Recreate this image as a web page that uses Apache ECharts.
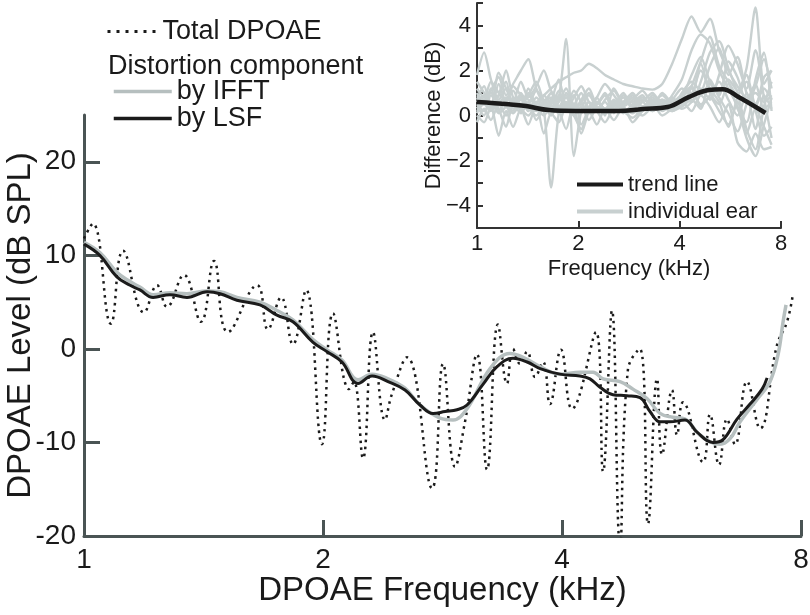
<!DOCTYPE html>
<html>
<head>
<meta charset="utf-8">
<script src="https://cdn.jsdelivr.net/npm/echarts@6/dist/echarts.min.js"></script>
<style>html,body{margin:0;padding:0;background:#fff}#c{width:810px;height:615px}</style>
</head>
<body>
<div id="c"></div>
<script>
// ---------- Main chart data (frequency kHz, level dB SPL) ----------
const totalFreq = [1.000,1.026,1.081,1.120,1.190,1.236,1.272,1.336,1.404,1.458,1.518,1.652,1.705,1.771,1.833,1.904,1.994,2.059,2.157,2.188,2.246,2.312,2.394,2.443,2.552,2.744,2.833,2.933,3.019,3.126,3.218,3.322,3.410,3.470,3.541,3.615,3.699,3.786,3.863,3.988,4.118,4.414,4.506,4.624,4.733,4.843,5.013,5.133,5.269,5.346,5.503,5.584,5.682,6.021,6.144,6.307,6.455,6.606,6.840,7.104,7.462,7.682,7.816];
const totalLevel = [11.8,13.4,2.7,10.5,3.9,6.8,4.5,7.9,2.9,9.4,1.8,6.8,2.1,5.5,0.5,6.3,-10.2,3.8,-4.3,-3.5,-11.7,1.8,-7.6,-4.8,-0.9,-14.9,-1.6,-12.6,-7.8,-0.6,-12.9,2.6,-3.7,0.0,-1.6,-0.3,-3.0,-1.4,-5.9,-0.1,-6.4,1.8,-13.1,4.1,-21.0,-2.2,0.0,-18.7,-3.2,-11.3,-4.4,-9.2,-5.7,-12.1,-7.0,-12.4,-7.5,-10.2,-3.5,-8.5,0.4,2.9,5.9];

const ifftFreq = [1.000,1.047,1.100,1.143,1.176,1.222,1.283,1.348,1.429,1.484,1.558,1.666,1.750,1.833,1.943,2.024,2.113,2.214,2.306,2.415,2.537,2.650,2.808,2.916,3.037,3.247,3.439,3.573,3.754,3.978,4.214,4.377,4.506,4.733,4.914,5.118,5.315,5.517,5.716,5.967,6.325,6.512,6.704,7.042,7.311,7.485,7.595,7.660];
const ifftLevel = [11.4,10.3,8.2,7.2,6.6,5.8,6.0,5.9,6.2,6.1,5.5,5.0,4.1,3.1,1.0,-0.1,-1.2,-3.3,-2.7,-3.2,-4.2,-6.0,-7.4,-7.6,-6.4,-2.1,-0.5,-0.9,-1.9,-2.7,-2.5,-2.5,-3.2,-3.5,-4.3,-5.3,-6.9,-7.3,-7.5,-9.2,-10.2,-9.6,-7.8,-5.4,-3.5,-0.6,2.9,4.7];

const lsfFreq = [1.000,1.047,1.100,1.143,1.176,1.222,1.283,1.348,1.429,1.484,1.558,1.666,1.750,1.833,1.943,2.024,2.113,2.214,2.306,2.415,2.537,2.650,2.752,2.849,2.950,3.037,3.181,3.313,3.470,3.615,3.754,3.978,4.214,4.338,4.466,4.637,4.830,5.015,5.163,5.315,5.472,5.715,5.918,6.198,6.381,6.645,6.901,7.146,7.251];
const lsfLevel = [11.2,10.0,7.7,6.8,6.3,5.5,5.8,5.5,6.1,5.9,5.2,4.7,3.6,2.9,0.7,-0.3,-1.4,-3.7,-2.9,-3.5,-4.4,-6.0,-6.9,-6.7,-6.5,-6.0,-3.8,-1.9,-1.0,-1.4,-2.1,-2.7,-2.9,-3.2,-4.1,-4.9,-5.0,-5.2,-6.7,-7.8,-7.8,-7.6,-8.9,-10.0,-9.7,-7.5,-5.9,-4.3,-3.1];

const mainXTicks = [1, 2, 4, 8];
const mainYTicks = [-20, -10, 0, 10, 20];

// ---------- Inset data (frequency kHz, difference dB) ----------
const trendFreq = [1.000,1.244,1.398,1.635,1.966,2.637,3.106,3.686,4.254,4.876,5.367,5.984,7.195];
const trendDiff = [0.60,0.50,0.42,0.24,0.20,0.20,0.29,0.38,0.82,1.13,1.17,0.82,0.11];

const earFreq = [1.00,1.05,1.10,1.16,1.22,1.28,1.35,1.42,1.50,1.58,1.66,1.75,1.84,1.94,2.04,2.15,2.27,2.40,2.55,2.72,2.90,3.10,3.32,3.55,3.80,4.06,4.34,4.62,4.92,5.24,5.58,5.94,6.32,6.72,7.12,7.50];
const ear01 = [0.9,0.7,1.0,0.6,0.8,0.5,0.9,0.7,0.6,0.9,1.2,1.5,1.7,1.9,2.0,2.3,2.1,1.8,1.6,1.4,1.3,1.2,1.15,1.4,2.3,3.4,4.4,3.7,4.3,2.9,2.0,1.3,0.8,1.0,0.6,0.9];
const ear02 = [0.3,0.5,0.2,0.6,0.4,0.1,0.5,0.3,0.2,0.6,0.4,0.1,0.3,0.5,0.2,0.4,0.6,0.3,0.5,0.2,0.4,0.7,0.5,0.3,0.6,0.8,1.2,0.9,1.4,1.0,1.6,1.1,2.1,4.8,1.4,2.0];
const ear03 = [0.5,0.2,0.6,0.1,0.4,0.7,0.3,0.0,0.4,0.2,-3.2,0.1,0.6,0.3,0.5,0.1,0.4,0.2,0.6,0.3,0.1,0.4,0.2,0.5,0.3,0.6,1.0,0.5,0.8,0.2,-0.4,0.6,-0.8,0.3,-0.5,-1.3];
const ear04 = [1.2,0.8,1.5,1.0,0.6,1.3,0.9,0.5,1.1,0.7,0.4,0.8,3.4,-1.8,0.2,0.9,0.5,1.0,0.4,0.8,0.3,0.6,0.2,0.5,0.8,0.4,1.3,2.4,3.5,2.2,1.5,0.9,1.8,0.5,1.2,0.7];
const ear05 = [1.8,2.8,1.6,0.7,1.2,0.4,0.8,0.2,0.6,0.3,0.7,0.1,0.5,0.0,0.4,-0.2,0.3,0.1,0.5,0.2,-0.1,0.3,0.6,0.2,0.5,0.9,0.6,1.5,2.8,3.3,2.1,1.0,-0.6,-1.5,0.4,1.5];
const ear06 = [0.2,0.6,1.1,1.7,0.9,1.4,2.0,2.5,1.2,0.6,1.0,0.4,0.8,0.2,0.7,1.2,0.5,0.9,0.3,0.6,1.0,0.4,0.7,0.3,0.9,1.6,2.9,3.6,3.2,2.0,1.2,0.4,-1.0,-1.8,-0.4,0.8];
const ear07 = [0.0,-0.3,0.4,-0.9,0.2,-0.5,0.3,-0.4,0.5,-0.8,0.1,-0.3,0.4,0.0,-0.6,0.2,-0.4,0.3,-0.2,0.4,-0.3,0.2,0.5,0.0,0.3,0.6,0.2,0.9,0.4,-0.3,0.5,-1.2,-1.6,-0.8,-1.5,-1.4];
const ear08 = [1.5,1.0,0.4,1.9,1.2,0.6,1.5,0.8,1.3,2.0,1.1,0.7,1.2,0.5,1.0,0.3,0.8,1.4,0.9,0.4,0.7,1.1,0.6,0.9,0.5,0.8,1.8,2.6,1.5,0.9,2.4,1.7,0.6,1.3,2.5,1.2];
const ear09 = [-0.3,0.3,-0.2,0.5,0.0,0.8,0.2,1.2,0.4,0.0,0.6,1.6,0.5,0.9,-0.4,0.3,0.8,0.0,1.2,0.6,0.9,0.3,0.8,0.4,0.2,0.5,0.9,2.0,1.2,0.6,-0.5,0.8,1.5,0.2,-0.9,-0.5];
const ear10 = [0.7,1.3,0.5,0.9,2.0,0.8,0.4,1.0,0.3,0.9,0.5,1.1,0.2,0.8,1.3,0.6,0.2,0.7,1.1,0.5,0.8,0.2,0.9,0.6,0.3,1.0,1.5,1.1,2.2,3.0,1.8,2.6,1.0,0.4,1.7,2.0];
const ear11 = [0.4,0.0,0.9,0.3,-0.5,0.5,0.1,0.6,-0.2,0.4,1.0,0.3,-0.6,0.5,0.1,0.6,0.2,-0.3,0.4,1.0,0.3,0.0,0.4,0.7,0.2,0.4,0.7,0.3,1.6,0.8,0.1,-0.7,0.5,1.4,0.3,0.6];
const ear12 = [1.0,0.5,1.2,0.2,0.7,1.1,0.5,0.9,1.5,0.6,0.2,0.9,0.4,1.1,0.6,0.1,0.5,0.9,0.2,0.5,0.6,0.9,0.3,0.7,0.5,0.3,0.6,1.2,0.7,1.8,3.1,2.3,1.2,2.9,0.8,-1.0];
const ear13 = [0.6,0.9,0.3,1.4,0.5,0.2,1.0,0.4,0.0,0.5,0.8,0.3,1.0,0.4,-0.8,0.2,0.6,0.3,0.7,0.1,0.5,0.8,0.4,1.0,0.6,0.9,1.3,0.4,0.9,1.5,0.7,0.0,1.0,-0.6,0.9,0.3];
const ear14 = [0.1,0.7,0.4,0.9,1.5,0.3,0.7,0.2,0.8,0.4,0.0,0.6,0.9,0.2,0.6,1.0,0.3,0.6,0.1,0.9,0.4,0.6,1.0,0.5,0.7,1.2,0.9,2.3,1.0,0.5,1.4,0.3,-0.3,1.6,2.8,0.2];
const earLines = [ear01,ear02,ear03,ear04,ear05,ear06,ear07,ear08,ear09,ear10,ear11,ear12,ear13,ear14];

const insetXTicks = [1, 2, 4, 8];

// ---------- build ----------
const FONT = 'Liberation Sans, Arial, Helvetica, sans-serif';
const pairs = (xs, ys) => xs.map((x, i) => [x, ys[i]]);
const AX = '#4a5454';
const GRAY = '#b6bfbf';
const EARGRAY = '#c8d0d0';
const INK = '#1b1b1b';

const earSeries = earLines.map(v => ({
  name: 'individual ear', type: 'line', xAxisIndex: 1, yAxisIndex: 1,
  data: pairs(earFreq, v), showSymbol: false, symbol: 'none', smooth: 0.25,
  lineStyle: { color: EARGRAY, width: 2.4 }, itemStyle: { color: EARGRAY }, z: 3
}));

const option = {
  animation: false,
  backgroundColor: '#fff',
  textStyle: { fontFamily: FONT },
  title: {
    text: 'Distortion component', left: 103, top: 48,
    textStyle: { fontFamily: FONT, fontSize: 27, fontWeight: 'normal', color: '#1a1a1a' }
  },
  legend: [
    {
      data: ['Total DPOAE'], left: 101, top: 13, itemWidth: 50, itemHeight: 14,
      itemStyle: { opacity: 0 }, lineStyle: { width: 3, type: [3, 6] },
      textStyle: { fontFamily: FONT, fontSize: 27, color: '#1a1a1a' }
    },
    {
      data: ['by IFFT', 'by LSF'], orient: 'vertical', left: 107, top: 73,
      itemWidth: 58, itemHeight: 14, itemGap: 0,
      itemStyle: { opacity: 0 }, lineStyle: { width: 3.5 },
      textStyle: { fontFamily: FONT, fontSize: 27, color: '#1a1a1a', lineHeight: 25 }
    },
    {
      data: ['trend line', 'individual ear'], orient: 'vertical', left: 570, top: 168,
      itemWidth: 46, itemHeight: 12, itemGap: 4,
      itemStyle: { opacity: 0 }, lineStyle: { width: 4 },
      textStyle: { fontFamily: FONT, fontSize: 22, color: '#1a1a1a', lineHeight: 23 }
    }
  ],
  grid: [
    { left: 84, right: 9, top: 115, bottom: 79, outerBoundsMode: 'none', containLabel: false },
    { left: 477, top: 3, width: 304, height: 225, outerBoundsMode: 'none', containLabel: false, z: 5 }
  ],
  xAxis: [
    {
      gridIndex: 0, type: 'log', logBase: 2, min: 1, max: 8,
      name: 'DPOAE Frequency (kHz)', nameLocation: 'middle', nameGap: 38, nameMoveOverlap: false,
      nameTextStyle: { fontFamily: FONT, fontSize: 33, color: '#1a1a1a' },
      axisLine: { onZero: false, lineStyle: { color: AX, width: 3 } },
      axisTick: { inside: true, length: 16, lineStyle: { color: AX, width: 3 }, customValues: mainXTicks },
      axisLabel: { fontFamily: FONT, fontSize: 28, color: '#1a1a1a', margin: 10, customValues: mainXTicks, formatter: v => String(v) },
      splitLine: { show: false }, minorTick: { show: false }
    },
    {
      gridIndex: 1, type: 'log', logBase: 2, min: 1, max: 8,
      name: 'Frequency (kHz)', nameLocation: 'middle', nameGap: 30, nameMoveOverlap: false,
      nameTextStyle: { fontFamily: FONT, fontSize: 22, color: '#1a1a1a' },
      axisLine: { onZero: false, lineStyle: { color: '#333', width: 2 } },
      axisTick: { inside: true, length: 7, lineStyle: { color: '#333', width: 2 }, customValues: insetXTicks },
      axisLabel: { fontFamily: FONT, fontSize: 22, color: '#1a1a1a', margin: 5, customValues: insetXTicks, formatter: v => String(v) },
      splitLine: { show: false }
    }
  ],
  yAxis: [
    {
      gridIndex: 0, type: 'value', min: -20, max: 25,
      name: 'DPOAE Level (dB SPL)', nameLocation: 'middle', nameGap: 47, nameMoveOverlap: false,
      nameTextStyle: { fontFamily: FONT, fontSize: 33, color: '#1a1a1a' },
      axisLine: { show: true, onZero: false, lineStyle: { color: AX, width: 3 } },
      axisTick: { show: true, inside: true, length: 16, lineStyle: { color: AX, width: 3 }, customValues: mainYTicks },
      axisLabel: { fontFamily: FONT, fontSize: 28, color: '#1a1a1a', margin: 8, customValues: mainYTicks },
      splitLine: { show: false }
    },
    {
      gridIndex: 1, type: 'value', min: -5, max: 5, interval: 1,
      name: 'Difference (dB)', nameLocation: 'middle', nameGap: 32, nameMoveOverlap: false,
      nameTextStyle: { fontFamily: FONT, fontSize: 22, color: '#1a1a1a' },
      axisLine: { show: true, onZero: false, lineStyle: { color: '#333', width: 2 } },
      axisTick: { show: true, inside: true, length: 6, lineStyle: { color: '#333', width: 2 } },
      axisLabel: { fontFamily: FONT, fontSize: 22, color: '#1a1a1a', margin: 6,
        formatter: v => (v % 2 === 0 && Math.abs(v) < 5) ? (v < 0 ? '\u2212' + Math.abs(v) : String(v)) : '' },
      splitLine: { show: false }
    }
  ],
  series: [
    {
      name: 'Total DPOAE', type: 'line', xAxisIndex: 0, yAxisIndex: 0,
      data: pairs(totalFreq, totalLevel), showSymbol: false, symbol: 'none', smooth: 0.45,
      lineStyle: { color: INK, width: 2.5, type: [2.5, 4.5] }, itemStyle: { color: INK }, z: 2
    },
    {
      name: 'by IFFT', type: 'line', xAxisIndex: 0, yAxisIndex: 0,
      data: pairs(ifftFreq, ifftLevel), showSymbol: false, symbol: 'none', smooth: 0.4,
      lineStyle: { color: GRAY, width: 3.5 }, itemStyle: { color: GRAY }, z: 3
    },
    {
      name: 'by LSF', type: 'line', xAxisIndex: 0, yAxisIndex: 0,
      data: pairs(lsfFreq, lsfLevel), showSymbol: false, symbol: 'none', smooth: 0.4,
      lineStyle: { color: INK, width: 3 }, itemStyle: { color: INK }, z: 4
    },
    ...earSeries,
    {
      name: 'trend line', type: 'line', xAxisIndex: 1, yAxisIndex: 1,
      data: pairs(trendFreq, trendDiff), showSymbol: false, symbol: 'none', smooth: 0.4,
      lineStyle: { color: INK, width: 4.5 }, itemStyle: { color: INK }, z: 6
    }
  ]
};
const chart = echarts.init(document.getElementById('c'), null, { renderer: 'canvas' });
chart.setOption(option);
</script>
</body>
</html>
